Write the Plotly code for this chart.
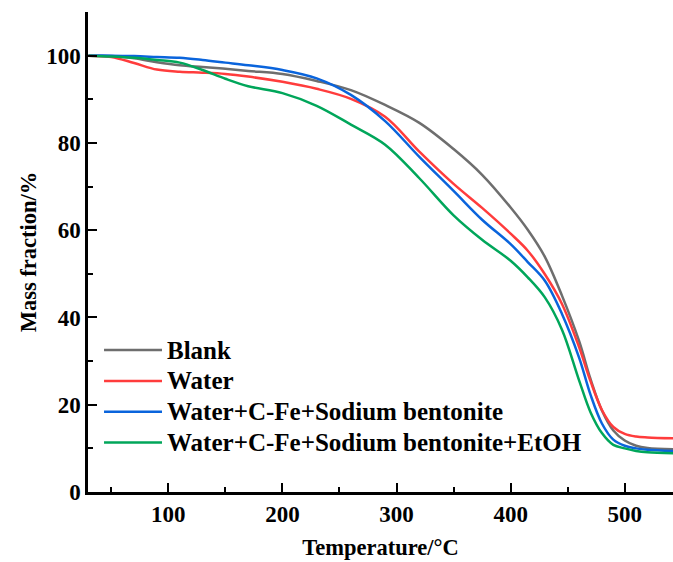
import plotly.graph_objects as go

# Temperature grid (°C) and mass fraction (%) for each TGA run
temperature = [30, 50, 70, 90, 110, 130, 150, 170, 200, 230, 260, 290, 320, 350,
               375, 400, 415, 430, 445, 460, 470, 480, 490, 500, 510, 520, 543]

blank = [100, 99.9, 99.4, 98.5, 97.8, 97.4, 97.0, 96.5, 95.8, 94.2, 92.1, 88.7, 84.6, 78.6,
         72.7, 65.2, 60.1, 53.9, 45.0, 34.6, 25.9, 18.7, 14.1, 11.8, 10.6, 10.1, 9.8]

water = [100, 99.7, 98.3, 96.8, 96.3, 96.1, 95.8, 95.2, 94.0, 92.4, 90.1, 86.0, 78.0, 70.6,
         65.1, 59.2, 55.3, 49.9, 43.1, 33.2, 25.4, 18.8, 14.9, 13.3, 12.7, 12.5, 12.3]

water_cfe_bent = [100, 100, 99.9, 99.7, 99.5, 99.0, 98.4, 97.8, 96.7, 94.8, 91.0, 85.0, 76.8, 69.0,
                  62.4, 56.8, 52.7, 48.4, 40.8, 30.8, 22.3, 15.7, 12.0, 10.6, 10.0, 9.7, 9.4]

water_cfe_bent_etoh = [100, 99.8, 99.5, 99.0, 98.4, 96.7, 94.7, 93.0, 91.4, 88.5, 84.2, 79.6, 71.9, 63.4,
                       57.8, 53.0, 49.2, 44.6, 37.2, 25.6, 18.3, 13.5, 10.8, 10.0, 9.4, 9.1, 8.9]

series_names = ["Blank", "Water", "Water+C-Fe+Sodium bentonite",
                "Water+C-Fe+Sodium bentonite+EtOH"]
series_values = [blank, water, water_cfe_bent, water_cfe_bent_etoh]
series_colors = ["#6e6e6e", "#ff3c3c", "#0a64dc", "#00a65a"]

x_ticks = [100, 200, 300, 400, 500]
y_ticks = [0, 20, 40, 60, 80, 100]

FONT = "Liberation Serif"

fig = go.Figure()
for name, vals, color in zip(series_names, series_values, series_colors):
    fig.add_trace(go.Scatter(
        x=temperature, y=vals, name=name, mode="lines", showlegend=False,
        line=dict(color=color, width=2.5, shape="spline", smoothing=1.0),
    ))

# Key drawn in paper coordinates: a short line sample plus the series name
key_top, key_step = 0.2956, 0.0642
for i, (name, color) in enumerate(zip(series_names, series_colors)):
    ky = key_top - i * key_step
    fig.add_shape(type="line", xref="paper", yref="paper",
                  x0=0.0274, x1=0.1265, y0=ky, y1=ky,
                  line=dict(color=color, width=2.5))
    fig.add_annotation(xref="paper", yref="paper", x=0.1318, y=ky,
                       xanchor="left", yanchor="middle", showarrow=False,
                       text=name,
                       font=dict(family=FONT, size=25, color="black", weight="bold"))

axis_common = dict(
    showline=True, linecolor="black", linewidth=2.5,
    ticks="inside", ticklen=9, tickwidth=2.2, tickcolor="black",
    showgrid=False, zeroline=False, mirror=False,
    tickfont=dict(family=FONT, size=23, color="black", weight="bold"),
)

fig.update_layout(
    width=673, height=562,
    margin=dict(l=88, r=0, t=12, b=70),
    plot_bgcolor="white", paper_bgcolor="white",
    showlegend=False,
    xaxis=dict(
        range=[29.6, 542.3], tickvals=x_ticks,
        minor=dict(ticks="inside", ticklen=5, tickwidth=2, tickcolor="black", dtick=50, tick0=0),
        title=dict(text="Temperature/°C", standoff=13,
                   font=dict(family=FONT, size=22.5, color="black", weight="bold")),
        **axis_common,
    ),
    yaxis=dict(
        range=[0, 110], tickvals=y_ticks,
        minor=dict(ticks="inside", ticklen=5, tickwidth=2, tickcolor="black", dtick=10, tick0=0),
        title=dict(text="Mass fraction/%", standoff=4,
                   font=dict(family=FONT, size=22.5, color="black", weight="bold")),
        **axis_common,
    ),
)

fig.write_html("out.html")
